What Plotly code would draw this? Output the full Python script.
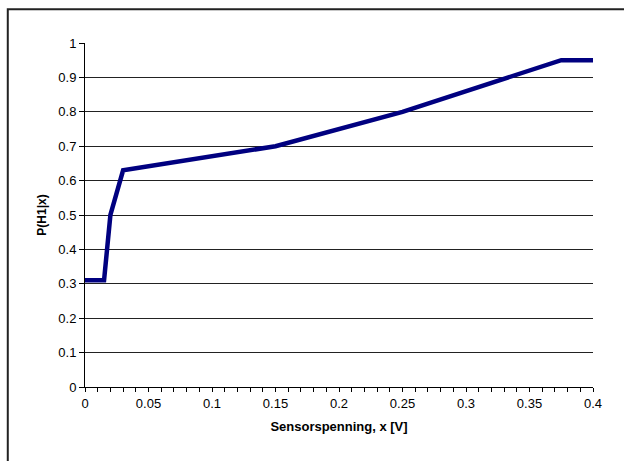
import plotly.graph_objects as go

# Posterior probability curve P(H1|x) versus sensor voltage
sensor_voltage = [0.0, 0.015, 0.02, 0.03, 0.15, 0.25, 0.375, 0.4]
p_h1 = [0.31, 0.31, 0.50, 0.63, 0.70, 0.80, 0.95, 0.95]

x_ticks = [0, 0.05, 0.1, 0.15, 0.2, 0.25, 0.3, 0.35, 0.4]
x_tick_labels = ["0", "0.05", "0.1", "0.15", "0.2", "0.25", "0.3", "0.35", "0.4"]
y_ticks = [0, 0.1, 0.2, 0.3, 0.4, 0.5, 0.6, 0.7, 0.8, 0.9, 1]
y_tick_labels = ["0", "0.1", "0.2", "0.3", "0.4", "0.5", "0.6", "0.7", "0.8", "0.9", "1"]
grid_levels = [0.1, 0.2, 0.3, 0.4, 0.5, 0.6, 0.7, 0.8, 0.9]

FONT = "Liberation Sans, Arial, sans-serif"

fig = go.Figure()

# Invisible trace so the gridline axis gets drawn
fig.add_trace(go.Scatter(x=[None], y=[None], yaxis="y2", showlegend=False, hoverinfo="skip"))

fig.add_trace(go.Scatter(
    x=sensor_voltage, y=p_h1, mode="lines",
    line=dict(color="#000080", width=4.5),
    showlegend=False, hoverinfo="x+y",
))

fig.update_layout(
    width=624, height=461,
    margin=dict(l=85, r=31, t=43, b=74),
    paper_bgcolor="white", plot_bgcolor="white",
    font=dict(family=FONT, size=13, color="black"),
    xaxis=dict(
        range=[0, 0.4], tickvals=x_ticks, ticktext=x_tick_labels,
        showgrid=False, zeroline=False,
        showline=True, linecolor="black", linewidth=1,
        ticks="outside", ticklen=4, tickcolor="black", tickwidth=1,
        minor=dict(dtick=0.01, ticks="outside", ticklen=4, tickcolor="black", tickwidth=1),
        tickfont=dict(size=13),
        title=dict(text="<b>Sensorspenning, x [V]</b>", font=dict(size=13), standoff=12),
    ),
    yaxis=dict(
        range=[0, 1], tickvals=y_ticks, ticktext=y_tick_labels,
        showgrid=False, zeroline=False,
        showline=True, linecolor="black", linewidth=1,
        ticks="outside", ticklen=5, tickcolor="black", tickwidth=1,
        tickfont=dict(size=13),
        title=dict(text="<b>P(H1|x)</b>", font=dict(size=12), standoff=9),
    ),
    # Horizontal gridlines at the inner levels only (none along the top)
    yaxis2=dict(
        range=[0, 1], overlaying="y", side="left",
        tickvals=grid_levels, showticklabels=False, ticks="",
        showgrid=True, gridcolor="#222222", gridwidth=1,
        zeroline=False, showline=False,
    ),
    shapes=[dict(
        type="rect", xref="paper", yref="paper",
        x0=-0.152, x1=1.2, y0=-0.5, y1=1.098,
        line=dict(color="#222222", width=2), layer="below",
    )],
)

fig.write_html("out.html")
